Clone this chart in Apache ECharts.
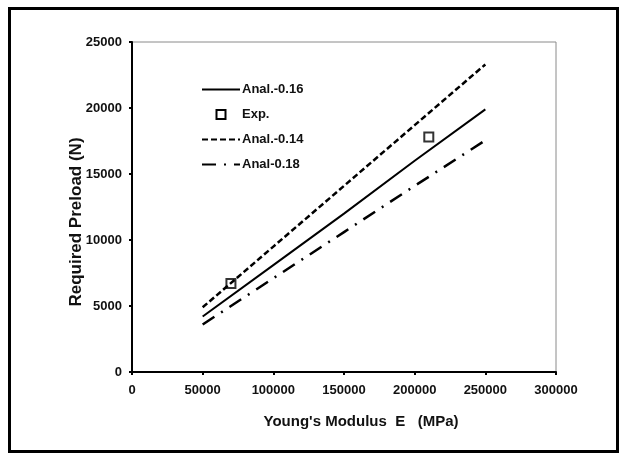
<!DOCTYPE html>
<html>
<head>
<meta charset="utf-8">
<script src="https://cdn.jsdelivr.net/npm/echarts@6/dist/echarts.min.js"></script>
<style>html,body{margin:0;padding:0;background:#fff}#c{width:627px;height:454px}</style>
</head>
<body>
<div id="c"></div>
<script>
var modulus = [50000, 100000, 150000, 200000, 250000];
var anal016 = [4200, 8100, 12000, 16000, 19900];
var anal014 = [4900, 9500, 14100, 18700, 23300];
var anal018 = [3600, 7100, 10600, 14100, 17550];
var expE = [70000, 210000];
var expP = [6700, 17800];
var xTicks = {min: 0, max: 300000, interval: 50000};
var yTicks = {min: 0, max: 25000, interval: 5000};

function pairs(xs, ys) { return xs.map(function (x, i) { return [x, ys[i]]; }); }

var font = 'Liberation Sans, Arial, sans-serif';
var chart = echarts.init(document.getElementById('c'));
chart.setOption({
  animation: false,
  backgroundColor: '#fff',
  grid: {left: 132, top: 42, right: 71, bottom: 82, show: true, borderColor: '#8a8a8a', borderWidth: 1},
  legend: {
    orient: 'vertical', left: 196, top: 78, itemWidth: 38, itemHeight: 9, itemGap: 12,
    itemStyle: {opacity: 0},
    textStyle: {fontFamily: font, fontSize: 13, fontWeight: 'bold', color: '#111', padding: [0, 0, 0, -3]},
    data: [
      {name: 'Anal.-0.16'},
      {name: 'Exp.', icon: 'path://M0,0L10,0L10,10L0,10Z', itemStyle: {opacity: 1}},
      {name: 'Anal.-0.14'},
      {name: 'Anal-0.18'}
    ]
  },
  xAxis: {
    type: 'value', min: xTicks.min, max: xTicks.max, interval: xTicks.interval,
    name: "Young's Modulus  E   (MPa)", nameLocation: 'middle', nameGap: 42, nameMoveOverlap: false,
    nameTextStyle: {fontFamily: font, fontSize: 15, fontWeight: 'bold', color: '#111', padding: [0, 0, 0, 34]},
    axisLine: {lineStyle: {color: '#000', width: 2}},
    axisTick: {show: true, length: 3, lineStyle: {color: '#000', width: 2}},
    axisLabel: {fontFamily: font, fontSize: 13, fontWeight: 'bold', color: '#111', margin: 12,
                formatter: function (v) { return String(v); }},
    splitLine: {show: false}
  },
  yAxis: {
    type: 'value', min: yTicks.min, max: yTicks.max, interval: yTicks.interval,
    name: 'Required Preload (N)', nameLocation: 'middle', nameGap: 47, nameMoveOverlap: false,
    nameTextStyle: {fontFamily: font, fontSize: 17, fontWeight: 'bold', color: '#111', padding: [0, 30, 0, 0]},
    axisLine: {lineStyle: {color: '#000', width: 2}},
    axisTick: {show: true, length: 3, lineStyle: {color: '#000', width: 2}},
    axisLabel: {fontFamily: font, fontSize: 13, fontWeight: 'bold', color: '#111', margin: 10,
                formatter: function (v) { return String(v); }},
    splitLine: {show: false}
  },
  series: [
    {name: 'Anal.-0.16', type: 'line', data: pairs(modulus, anal016), symbol: 'none',
     lineStyle: {color: '#000', width: 2, type: 'solid'}, itemStyle: {color: '#000'}},
    {name: 'Exp.', type: 'scatter', data: pairs(expE, expP), symbol: 'rect', symbolSize: 9,
     itemStyle: {color: '#fff', borderColor: '#000', borderWidth: 2}},
    {name: 'Anal.-0.14', type: 'line', data: pairs(modulus, anal014), symbol: 'none',
     lineStyle: {color: '#000', width: 2.5, type: [6, 3]}, itemStyle: {color: '#000'}},
    {name: 'Anal-0.18', type: 'line', data: pairs(modulus, anal018), symbol: 'none',
     lineStyle: {color: '#000', width: 2.5, type: [14, 8, 2, 8]}, itemStyle: {color: '#000'}}
  ],
  graphic: [
    {type: 'rect', shape: {x: 9.5, y: 8.5, width: 608, height: 443}, style: {fill: 'none', stroke: '#000', lineWidth: 3}, silent: true}
  ]
});
</script>
</body>
</html>
